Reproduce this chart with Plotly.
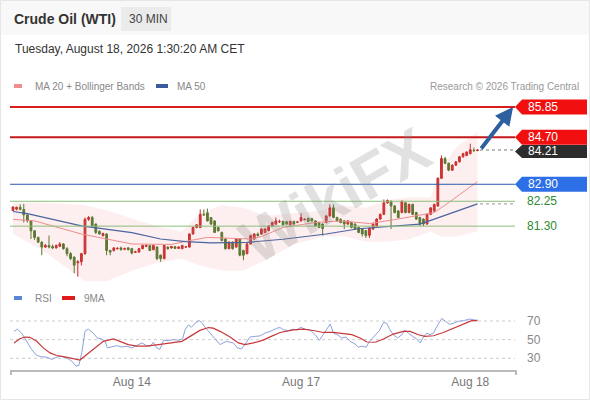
import plotly.graph_objects as go

# 30 min candles, index 0 = first bar on screen
open_ = [81.90, 81.95, 82.02, 81.94, 81.73, 81.50, 81.12, 80.87, 80.69, 80.50,
         80.56, 80.52, 80.47, 80.53, 80.62, 80.44, 80.25, 80.12, 79.90, 79.94,
         80.25, 81.56, 81.63, 81.38, 81.10, 80.94, 81.00, 80.37, 80.37, 80.44,
         80.47, 80.42, 80.47, 80.44, 80.30, 80.31, 80.44, 80.52, 80.56, 80.40,
         80.50, 80.19, 80.06, 80.50, 80.47, 80.52, 80.45, 80.44, 80.50, 80.50,
         81.00, 81.25, 81.25, 81.75, 81.81, 81.63, 81.50, 81.25, 81.06, 80.81,
         80.44, 80.69, 80.50, 80.81, 80.37, 80.25, 80.62, 80.81, 81.00, 81.00,
         81.06, 81.13, 81.31, 81.38, 81.47, 81.48, 81.47, 81.35, 81.48, 81.45,
         81.50, 81.55, 81.60, 81.59, 81.50, 81.44, 81.38, 81.44, 81.69, 82.00,
         81.63, 81.56, 81.50, 81.38, 81.44, 81.38, 81.25, 81.19, 81.13, 80.95,
         81.19, 81.31, 81.57, 81.75, 82.19, 82.25, 82.07, 81.88, 81.82, 82.19,
         81.82, 82.13, 81.82, 81.63, 81.57, 81.38, 81.75, 81.88, 82.07, 83.13,
         83.88, 83.70, 83.44, 83.63, 83.76, 83.95, 84.00, 84.07, 84.20, 84.19]
high = [82.06, 82.05, 82.13, 82.15, 81.75, 81.52, 81.15, 80.90, 80.72, 80.62,
        80.94, 80.60, 80.60, 80.69, 80.65, 80.50, 80.31, 80.14, 80.00, 80.28,
        81.63, 81.69, 81.69, 81.40, 81.14, 81.05, 81.03, 80.40, 80.50, 80.50,
        80.52, 80.48, 80.50, 80.47, 80.36, 80.47, 80.59, 80.62, 80.58, 80.60,
        80.53, 80.22, 80.59, 80.53, 80.55, 80.54, 80.53, 80.59, 80.53, 81.03,
        81.28, 81.38, 81.94, 81.94, 81.97, 81.65, 81.52, 81.28, 81.09, 80.84,
        80.72, 80.72, 80.84, 80.84, 80.40, 80.65, 80.97, 81.03, 81.06, 81.22,
        81.22, 81.34, 81.47, 81.63, 81.55, 81.51, 81.50, 81.51, 81.51, 81.50,
        81.79, 81.60, 81.63, 81.62, 81.53, 81.47, 81.41, 81.72, 82.13, 82.13,
        81.66, 81.60, 81.53, 81.53, 81.47, 81.41, 81.28, 81.22, 81.16, 81.25,
        81.41, 81.60, 81.78, 82.32, 82.32, 82.28, 82.10, 81.91, 82.28, 82.22,
        82.16, 82.16, 81.85, 81.66, 81.60, 81.78, 82.03, 82.16, 83.16, 84.00,
        83.95, 83.73, 83.66, 83.79, 83.98, 84.10, 84.16, 84.45, 84.30, 84.24]
low = [81.88, 81.90, 81.91, 81.44, 81.44, 80.81, 80.77, 80.65, 80.19, 80.47,
       80.45, 80.42, 80.44, 80.50, 80.40, 80.15, 80.00, 79.50, 79.37, 79.80,
       80.20, 81.50, 81.25, 81.00, 80.98, 80.90, 80.19, 80.19, 80.33, 80.40,
       80.37, 80.38, 80.37, 80.22, 80.28, 80.29, 80.42, 80.50, 80.35, 80.38,
       80.00, 79.94, 80.03, 80.40, 80.44, 80.43, 80.43, 80.42, 80.47, 80.48,
       80.98, 81.22, 81.22, 81.70, 81.48, 81.35, 81.04, 81.10, 80.72, 80.40,
       80.42, 80.40, 80.48, 80.15, 80.00, 80.22, 80.60, 80.78, 80.90, 80.97,
       81.03, 81.10, 81.28, 81.35, 81.42, 81.32, 81.35, 81.32, 81.35, 81.42,
       81.47, 81.52, 81.45, 81.47, 81.28, 81.22, 80.94, 81.41, 81.66, 81.60,
       81.47, 81.41, 81.19, 81.35, 81.22, 81.16, 81.03, 80.90, 80.85, 80.85,
       81.16, 81.28, 81.54, 81.72, 82.16, 81.19, 81.79, 81.60, 81.79, 81.79,
       81.79, 81.72, 81.54, 81.31, 81.30, 81.35, 81.72, 81.85, 82.04, 83.10,
       83.67, 83.40, 83.41, 83.60, 83.73, 83.92, 83.97, 84.04, 84.15, 84.16]
close = [82.03, 82.02, 81.94, 81.73, 81.50, 81.12, 80.87, 80.69, 80.50, 80.56,
         80.50, 80.47, 80.56, 80.62, 80.44, 80.25, 80.06, 79.81, 79.94, 80.25,
         81.56, 81.63, 81.31, 81.06, 81.00, 81.02, 80.37, 80.31, 80.47, 80.45,
         80.40, 80.44, 80.40, 80.27, 80.32, 80.44, 80.56, 80.56, 80.37, 80.56,
         80.06, 80.06, 80.56, 80.44, 80.52, 80.45, 80.50, 80.56, 80.51, 81.00,
         81.25, 81.35, 81.75, 81.73, 81.50, 81.38, 81.06, 81.12, 80.75, 80.44,
         80.69, 80.44, 80.81, 80.19, 80.19, 80.62, 80.94, 81.00, 80.94, 81.19,
         81.19, 81.31, 81.44, 81.50, 81.48, 81.35, 81.38, 81.48, 81.38, 81.46,
         81.63, 81.56, 81.48, 81.50, 81.31, 81.25, 81.21, 81.69, 82.00, 81.63,
         81.50, 81.44, 81.38, 81.50, 81.25, 81.19, 81.06, 81.00, 80.94, 81.22,
         81.38, 81.57, 81.75, 82.19, 82.28, 82.07, 81.82, 81.63, 82.25, 81.82,
         82.13, 81.75, 81.57, 81.38, 81.38, 81.75, 82.00, 82.13, 83.13, 83.88,
         83.70, 83.44, 83.63, 83.76, 83.95, 84.07, 84.13, 84.22, 84.18, 84.21]

# MA 20 + Bollinger bands, MA 50 (read at bar positions)
ma20_pos = [0, 6, 19, 33, 44, 48, 54, 66, 69, 75, 84, 91, 99, 106, 117, 121, 129]
ma20 = [81.56, 81.50, 81.00, 80.62, 80.60, 80.72, 80.87, 80.81, 80.90, 81.25,
        81.44, 81.50, 81.40, 81.55, 81.82, 82.20, 83.00]
bb_pos = [0, 8, 15, 20, 26, 33, 40, 47, 52, 58, 64, 70, 78, 86, 92, 98, 104, 110, 116, 119, 123, 129]
bb_upper = [82.20, 82.20, 82.15, 82.10, 81.90, 81.60, 81.30, 81.10, 81.80, 82.10, 82.00,
            81.70, 81.80, 81.90, 82.10, 82.00, 82.30, 82.40, 82.40, 83.50, 84.30, 84.90]
bb_lower = [81.00, 80.40, 79.70, 79.20, 79.20, 79.60, 79.90, 80.05, 79.80, 79.60, 79.60,
            80.00, 80.60, 80.90, 80.90, 80.70, 80.70, 80.80, 81.10, 80.90, 80.90, 81.10]
ma50_pos = [0, 4, 19, 33, 41, 48, 55, 65, 75, 87, 96, 113, 117, 129]
ma50 = [81.86, 81.78, 81.31, 81.05, 80.81, 80.71, 80.66, 80.68, 80.80, 81.00,
        81.20, 81.38, 81.57, 82.15]

# RSI and its 9 period MA
rsi_pos = [0.3, 1.2, 2.4, 3.8, 5.2, 6.6, 8.0, 9.4, 10.8, 11.7, 13.1, 14.9, 16.3, 17.5, 18.3,
           19.1, 20.0, 20.9, 22.3, 23.4, 24.6, 25.6, 26.2, 27.4, 28.8, 30.2, 31.6, 33.0, 34.4,
           35.8, 37.1, 38.1, 39.0, 39.9, 40.8, 41.8, 43.1, 44.5, 45.9, 47.1, 47.8, 48.7, 49.6,
           50.6, 51.7, 52.4, 53.3, 54.7, 56.1, 57.5, 58.4, 59.4, 60.3, 61.2, 62.3, 63.5, 64.7,
           65.8, 67.2, 68.6, 70.0, 71.4, 73.3, 74.2, 75.1, 76.5, 77.9, 78.8, 79.9, 81.1, 82.5,
           83.9, 85.1, 86.7, 88.1, 89.0, 90.1, 91.3, 92.5, 93.6, 95.0, 95.9, 96.9, 98.1, 99.0,
           100.1, 101.8, 102.9, 103.8, 104.7, 105.6, 106.8, 108.0, 108.9, 109.8, 111.0, 112.1,
           113.1, 114.0, 114.9, 115.8, 116.8, 117.7, 119.1, 120.0, 121.2, 122.3, 123.7, 125.1,
           126.9, 128.3, 129.0]
rsi = [58.9, 61.3, 57.0, 48.2, 39.4, 33.0, 31.6, 31.2, 28.8, 30.5, 32.3, 30.5, 27.0, 21.7, 22.4,
       35.8, 58.9, 61.3, 57.0, 51.8, 50.7, 48.2, 41.2, 42.2, 43.6, 42.2, 42.9, 41.2, 43.6,
       46.5, 43.6, 42.9, 47.2, 41.2, 39.4, 49.3, 48.9, 50.0, 49.3, 50.7, 60.6, 65.9, 63.4,
       67.7, 70.5, 68.4, 63.4, 57.0, 51.8, 44.7, 46.5, 48.2, 47.2, 46.5, 41.2, 40.1, 46.5,
       52.8, 53.5, 54.0, 57.0, 58.8, 62.3, 63.0, 60.5, 59.8, 61.2, 60.5, 63.3, 61.2, 60.5,
       55.3, 49.3, 58.8, 66.8, 57.0, 55.3, 51.8, 52.8, 48.2, 45.4, 41.9, 43.0, 41.9, 48.2,
       52.8, 59.8, 68.3, 67.6, 60.5, 55.3, 51.8, 55.3, 60.5, 57.0, 53.5, 50.7,
       46.5, 52.8, 57.0, 55.3, 57.0, 64.0, 72.8, 70.4, 66.5, 67.6, 69.7, 70.4,
       72.1, 71.0, 71.0]
rsi_ma_pos = [0.3, 1.9, 3.3, 4.7, 6.6, 8.4, 10.3, 12.1, 14.4, 16.8, 18.6, 20.5, 22.8, 25.1,
              27.9, 29.7, 32.0, 34.4, 37.1, 40.4, 43.6, 46.9, 49.2, 51.9, 54.3, 55.6, 57.5,
              60.3, 62.6, 64.4, 66.8, 69.5, 71.4, 74.2, 77.9, 80.6, 83.4, 86.2, 89.0, 91.8,
              94.1, 96.4, 98.3, 100.6, 102.9, 105.6, 108.4, 110.3, 112.6, 114.4, 116.8,
              119.5, 122.3, 125.6, 127.4, 129.0]
rsi_ma = [46.5, 51.0, 52.8, 52.5, 48.2, 41.2, 35.8, 33.0, 31.6, 29.5, 28.1, 34.0, 41.2, 48.2,
          50.7, 48.2, 44.7, 43.0, 43.0, 44.7, 46.5, 48.2, 53.5, 59.9, 63.0, 62.4, 58.9,
          52.8, 46.5, 44.7, 46.5, 49.5, 53.0, 57.7, 60.5, 61.2, 59.8, 57.7, 57.7, 56.0,
          55.3, 51.8, 47.5, 47.2, 50.7, 56.0, 58.8, 58.8, 55.3, 53.5, 54.2,
          57.7, 62.3, 68.3, 70.4, 70.4]
rsi_levels = [70, 50, 30]

tick_pos = [33, 80, 127]
tick_text = ["Aug 14", "Aug 17", "Aug 18"]

# key levels: value, line colour, tag colour (None = plain green text)
levels = [
    (85.85, "#d91c1c", "#f20f0f"),
    (84.70, "#c41818", "#f20f0f"),
    (82.90, "#2a5aa8", "#2c6fe6"),
    (82.25, "#8cbf7a", None),
    (81.30, "#8cbf7a", None),
]
last_price = 84.21

W, H = 590, 400
L, R, T, B = 11, 516, 95, 370
Y_MAIN = [78.67, 86.31]
Y_RSI = [17.45, 81.8]
FONT = "Liberation Sans, Arial, sans-serif"


def px(x):
    return (x - L) / (R - L)


def py(y):
    return (B - y) / (B - T)


def price_px(p):
    return 95 + (Y_MAIN[1] - p) / (Y_MAIN[1] - Y_MAIN[0]) * 200


def tag_path(cy, h):
    return (f"M {px(515)},{py(cy)} L {px(522)},{py(cy - h / 2)} L {px(587)},{py(cy - h / 2)} "
            f"L {px(587)},{py(cy + h / 2)} L {px(522)},{py(cy + h / 2)} Z")


bars = list(range(len(close)))

fig = go.Figure()
fig.add_trace(go.Scatter(x=bb_pos, y=bb_upper, mode="lines", line=dict(width=0),
                         hoverinfo="skip"))
fig.add_trace(go.Scatter(x=bb_pos, y=bb_lower, mode="lines", line=dict(width=0),
                         fill="tonexty", fillcolor="rgba(240,110,110,0.11)", hoverinfo="skip"))
fig.add_trace(go.Scatter(x=ma20_pos, y=ma20, mode="lines",
                         line=dict(color="#f08c8c", width=1)))
fig.add_trace(go.Scatter(x=ma50_pos, y=ma50, mode="lines",
                         line=dict(color="#4a64a0", width=1.2)))
fig.add_trace(go.Candlestick(
    x=bars, open=open_, high=high, low=low, close=close,
    increasing=dict(line=dict(color="#c62a2a", width=1), fillcolor="#d03232"),
    decreasing=dict(line=dict(color="#4c7a2c", width=1), fillcolor="#4c7a2c"),
))
fig.add_trace(go.Scatter(x=rsi_pos, y=rsi, mode="lines", yaxis="y2",
                         line=dict(color="#8ea2dc", width=1)))
fig.add_trace(go.Scatter(x=rsi_ma_pos, y=rsi_ma, mode="lines", yaxis="y2",
                         line=dict(color="#c8383a", width=1.2)))

shapes = [
    dict(type="rect", xref="paper", yref="paper", x0=px(0), x1=px(W), y0=py(0), y1=py(35),
         fillcolor="#f8f8f8", line_width=0, layer="below"),
    dict(type="rect", xref="paper", yref="paper", x0=px(0.5), x1=px(W - 0.5), y0=py(0.5),
         y1=py(H - 0.5), line=dict(color="#e6e6e6", width=1)),
    dict(type="rect", xref="paper", yref="paper", x0=px(121), x1=px(171), y0=py(7), y1=py(31),
         fillcolor="#ebebeb", line_width=0),
    # legend swatches
    dict(type="rect", xref="paper", yref="paper", x0=px(14), x1=px(22), y0=py(84), y1=py(88),
         fillcolor="#f08c8c", line_width=0),
    dict(type="rect", xref="paper", yref="paper", x0=px(156), x1=px(168), y0=py(84), y1=py(88),
         fillcolor="#3b5b9b", line_width=0),
    dict(type="rect", xref="paper", yref="paper", x0=px(14), x1=px(22), y0=py(296), y1=py(300),
         fillcolor="#5b84d6", line_width=0),
    dict(type="rect", xref="paper", yref="paper", x0=px(62), x1=px(75), y0=py(296), y1=py(300),
         fillcolor="#e01b1b", line_width=0),
    # axis end ticks
    dict(type="line", xref="paper", yref="paper", x0=px(11), x1=px(11), y0=py(370), y1=py(375),
         line=dict(color="#bbbbbb", width=2)),
    dict(type="line", xref="paper", yref="paper", x0=px(516), x1=px(516), y0=py(370), y1=py(375),
         line=dict(color="#bbbbbb", width=2)),
    # dotted extensions after the last bar
    dict(type="line", xref="paper", yref="y", x0=px(480), x1=px(515), y0=last_price, y1=last_price,
         line=dict(color="#777777", width=1, dash="dot")),
    dict(type="line", xref="paper", yref="y", x0=px(480), x1=px(515), y0=ma50[-1], y1=ma50[-1],
         line=dict(color="#999999", width=1, dash="dot")),
]
for lv in rsi_levels:
    shapes.append(dict(type="line", xref="paper", yref="y2", x0=px(10), x1=px(515), y0=lv, y1=lv,
                       line=dict(color="#cccccc", width=1, dash="dot"), layer="below"))

annotations = [
    dict(text="<b>Crude Oil (WTI)</b>", x=px(12), y=py(19), font=dict(size=14, color="#333333")),
    dict(text="30 MIN", x=px(127), y=py(19), font=dict(size=12, color="#444444")),
    dict(text="Tuesday, August 18, 2026 1:30:20 AM CET", x=px(13), y=py(49),
         font=dict(size=12, color="#333333")),
    dict(text="MA 20 + Bollinger Bands", x=px(33), y=py(86), font=dict(size=10, color="#888888")),
    dict(text="MA 50", x=px(175), y=py(86), font=dict(size=10, color="#888888")),
    dict(text="Research © 2026 Trading Central", x=px(581), y=py(86), xanchor="right",
         font=dict(size=10, color="#999999")),
    dict(text="RSI", x=px(33), y=py(298), font=dict(size=10, color="#888888")),
    dict(text="9MA", x=px(82), y=py(298), font=dict(size=10, color="#888888")),
    dict(text="<b>WikiFX</b>", x=px(335), y=py(195), xanchor="center", textangle=-30,
         font=dict(size=62, color="rgba(140,140,140,0.26)")),
]
for a in annotations:
    a.setdefault("xanchor", "left")
    a.update(xref="paper", yref="paper", yanchor="middle", showarrow=False,
             font=dict(family=FONT, **a["font"]))

# dark tag for the last price first, so the 84.70 tag sits on top of its edge
last_cy = price_px(last_price) + 1.5
shapes.append(dict(type="path", xref="paper", yref="paper", path=tag_path(last_cy, 13),
                   fillcolor="#2d2d2d", line=dict(width=0), layer="above"))
annotations.append(dict(text=f"{last_price:.2f}", xref="paper", yref="paper", x=px(526),
                        y=py(last_cy), xanchor="left", yanchor="middle", showarrow=False,
                        font=dict(family=FONT, size=12, color="#ffffff")))

for value, line_col, tag_col in levels:
    shapes.append(dict(type="line", xref="paper", yref="y", x0=px(10), x1=px(515), y0=value,
                       y1=value, line=dict(color=line_col, width=2 if value > 84 else 1)))
    if tag_col:
        shapes.append(dict(type="path", xref="paper", yref="paper",
                           path=tag_path(price_px(value), 15), fillcolor=tag_col,
                           line=dict(width=0), layer="above"))
        annotations.append(dict(text=f"{value:.2f}", xref="paper", yref="y", x=px(526), y=value,
                                xanchor="left", showarrow=False,
                                font=dict(family=FONT, size=12, color="white")))
    else:
        annotations.append(dict(text=f"{value:.2f}", xref="paper", yref="y", x=px(525), y=value,
                                xanchor="left", showarrow=False,
                                font=dict(family=FONT, size=12, color="#2f8a2f")))

for lv in rsi_levels:
    annotations.append(dict(text=str(lv), xref="paper", yref="y2", x=px(525), y=lv, xanchor="left",
                            showarrow=False, font=dict(family=FONT, size=12, color="#888888")))

# target arrow
annotations.append(dict(x=138.9, y=85.85, xref="x", yref="y", ax=-33, ay=43, text="",
                        showarrow=True, arrowhead=2, arrowsize=0.9, arrowwidth=4,
                        arrowcolor="#2e5f9e"))

fig.update_layout(
    width=W, height=H,
    margin=dict(l=L, r=W - R, t=T, b=H - B),
    paper_bgcolor="white", plot_bgcolor="white",
    showlegend=False,
    font=dict(family=FONT),
    xaxis=dict(range=[-0.55, 139.7], anchor="y2", showgrid=False, zeroline=False,
               showline=True, linecolor="#bbbbbb", linewidth=2, ticks="",
               tickvals=tick_pos, ticktext=tick_text, tickfont=dict(size=12, color="#777777"),
               rangeslider=dict(visible=False)),
    yaxis=dict(domain=[py(295), 1], range=Y_MAIN, visible=False),
    yaxis2=dict(domain=[0, py(310)], range=Y_RSI, visible=False),
    shapes=shapes,
    annotations=annotations,
)

fig.write_html("out.html", config={"displayModeBar": False},
               post_script="document.body.style.margin='0';")
